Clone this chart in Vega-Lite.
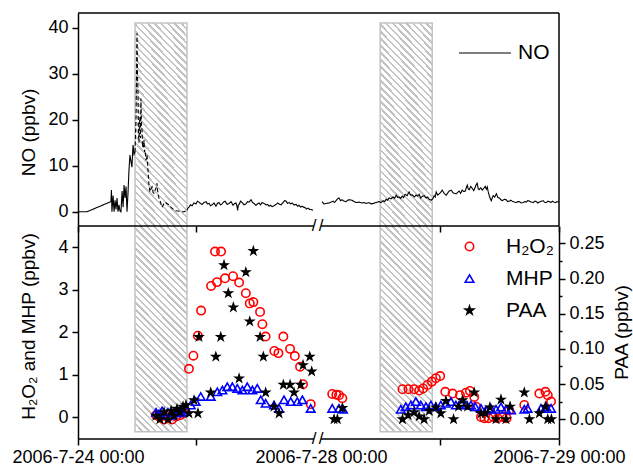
{
"$schema": "https://vega.github.io/schema/vega-lite/v6.json",
"padding": {"left": 11, "top": 12, "right": 2, "bottom": 2},
"background": "white",
"config": {
  "font": "Liberation Sans",
  "view": {"stroke": null},
  "axis": {"grid": false, "labelFont": "Liberation Sans", "labelFontSize": 18, "labelColor": "#000", "titleFont": "Liberation Sans", "titleFontSize": 19, "titleFontWeight": "normal", "titleColor": "#000", "tickColor": "#000", "tickWidth": 1.5, "domainColor": "#000", "domainWidth": 1.5, "labelOverlap": false, "labelFlush": false},
  "legend": {"labelFont": "Liberation Sans", "labelColor": "#000", "padding": 0}
},
"datasets": {
  "hatch": [{"start": "2006/07/24 05:48", "end": "2006/07/24 11:05"}, {"start": "2006/07/28 05:58", "end": "2006/07/28 11:13"}],
  "segments": [{"s": "2006/07/24 00:00", "e": "2006/07/25 00:00"}, {"s": "2006/07/28 00:00", "e": "2006/07/29 00:00"}],
  "breaks": [{"t": "2006/07/25 00:00"}, {"t": "2006/07/28 00:00"}],
  "no": [
    {"t":"2006/07/24 00:00","NO":0,"part":"a"},{"t":"2006/07/24 00:55","NO":0,"part":"a"},{"t":"2006/07/24 03:21","NO":2.2,"part":"a"},{"t":"2006/07/24 03:24","NO":4.7,"part":"a"},{"t":"2006/07/24 03:27","NO":0,"part":"a"},{"t":"2006/07/24 03:34","NO":3.5,"part":"a"},{"t":"2006/07/24 03:40","NO":0,"part":"a"},{"t":"2006/07/24 03:46","NO":2.5,"part":"a"},{"t":"2006/07/24 03:52","NO":0.5,"part":"a"},{"t":"2006/07/24 03:58","NO":3.0,"part":"a"},{"t":"2006/07/24 04:04","NO":0,"part":"a"},{"t":"2006/07/24 04:10","NO":1.5,"part":"a"},{"t":"2006/07/24 04:16","NO":0.2,"part":"a"},{"t":"2006/07/24 04:22","NO":0,"part":"a"},{"t":"2006/07/24 04:29","NO":4.5,"part":"a"},{"t":"2006/07/24 04:35","NO":1.0,"part":"a"},{"t":"2006/07/24 04:41","NO":5.8,"part":"a"},{"t":"2006/07/24 04:47","NO":3.0,"part":"a"},{"t":"2006/07/24 04:53","NO":5.5,"part":"a"},{"t":"2006/07/24 04:59","NO":0,"part":"a"},{"t":"2006/07/24 05:05","NO":4.0,"part":"a"},{"t":"2006/07/24 05:11","NO":9.0,"part":"a"},{"t":"2006/07/24 05:17","NO":12.3,"part":"a"},{"t":"2006/07/24 05:23","NO":11.0,"part":"a"},{"t":"2006/07/24 05:29","NO":9.7,"part":"a"},{"t":"2006/07/24 05:36","NO":14.5,"part":"a"},{"t":"2006/07/24 05:42","NO":12.5,"part":"a"},{"t":"2006/07/24 05:48","NO":13.0,"part":"a"},
    {"t":"2006/07/24 05:48","NO":13.0,"part":"b"},{"t":"2006/07/24 05:54","NO":20.6,"part":"b"},{"t":"2006/07/24 06:00","NO":38.8,"part":"b"},{"t":"2006/07/24 06:03","NO":30,"part":"b"},{"t":"2006/07/24 06:06","NO":26,"part":"b"},{"t":"2006/07/24 06:09","NO":17,"part":"b"},{"t":"2006/07/24 06:12","NO":15,"part":"b"},{"t":"2006/07/24 06:15","NO":19,"part":"b"},{"t":"2006/07/24 06:18","NO":20.6,"part":"b"},{"t":"2006/07/24 06:21","NO":16,"part":"b"},{"t":"2006/07/24 06:24","NO":24.6,"part":"b"},{"t":"2006/07/24 06:27","NO":19,"part":"b"},{"t":"2006/07/24 06:31","NO":17.7,"part":"b"},{"t":"2006/07/24 06:34","NO":14,"part":"b"},{"t":"2006/07/24 06:37","NO":15,"part":"b"},{"t":"2006/07/24 06:40","NO":14,"part":"b"},{"t":"2006/07/24 06:43","NO":15.6,"part":"b"},{"t":"2006/07/24 06:46","NO":13,"part":"b"},{"t":"2006/07/24 06:49","NO":13.4,"part":"b"},{"t":"2006/07/24 06:55","NO":11.2,"part":"b"},{"t":"2006/07/24 07:01","NO":12.3,"part":"b"},{"t":"2006/07/24 07:07","NO":9.0,"part":"b"},{"t":"2006/07/24 07:13","NO":5.8,"part":"b"},{"t":"2006/07/24 07:19","NO":4.3,"part":"b"},{"t":"2006/07/24 07:26","NO":5.0,"part":"b"},{"t":"2006/07/24 07:32","NO":5.4,"part":"b"},{"t":"2006/07/24 07:38","NO":4.2,"part":"b"},{"t":"2006/07/24 07:44","NO":4.0,"part":"b"},{"t":"2006/07/24 07:50","NO":4.6,"part":"b"},{"t":"2006/07/24 07:56","NO":5.1,"part":"b"},{"t":"2006/07/24 08:02","NO":6.2,"part":"b"},{"t":"2006/07/24 08:08","NO":3.8,"part":"b"},{"t":"2006/07/24 08:14","NO":3.0,"part":"b"},{"t":"2006/07/24 08:24","NO":2.0,"part":"b"},{"t":"2006/07/24 08:33","NO":1.0,"part":"b"},{"t":"2006/07/24 08:42","NO":1.6,"part":"b"},{"t":"2006/07/24 08:51","NO":2.1,"part":"b"},{"t":"2006/07/24 09:03","NO":1.8,"part":"b"},{"t":"2006/07/24 09:15","NO":1.5,"part":"b"},{"t":"2006/07/24 09:30","NO":0.9,"part":"b"},{"t":"2006/07/24 09:46","NO":0.4,"part":"b"},{"t":"2006/07/24 10:00","NO":0.2,"part":"b"},{"t":"2006/07/24 10:16","NO":0.1,"part":"b"},{"t":"2006/07/24 10:30","NO":0.0,"part":"b"},{"t":"2006/07/24 10:47","NO":0.0,"part":"b"},{"t":"2006/07/24 11:05","NO":0.3,"part":"b"},
    {"t":"2006/07/24 11:05","NO":0.3,"part":"c"},{"t":"2006/07/24 11:11","NO":0.8,"part":"c"},{"t":"2006/07/24 11:17","NO":1.0,"part":"c"},{"t":"2006/07/24 11:26","NO":1.5,"part":"c"},{"t":"2006/07/24 11:36","NO":1.3,"part":"c"},{"t":"2006/07/24 11:48","NO":1.9,"part":"c"},{"t":"2006/07/24 12:00","NO":1.7,"part":"c"},{"t":"2006/07/24 12:09","NO":2.3,"part":"c"},{"t":"2006/07/24 12:18","NO":2.1,"part":"c"},{"t":"2006/07/24 12:27","NO":1.8,"part":"c"},{"t":"2006/07/24 12:37","NO":1.6,"part":"c"},{"t":"2006/07/24 12:49","NO":2.0,"part":"c"},{"t":"2006/07/24 13:01","NO":2.2,"part":"c"},{"t":"2006/07/24 13:10","NO":1.7,"part":"c"},{"t":"2006/07/24 13:20","NO":1.8,"part":"c"},{"t":"2006/07/24 13:29","NO":1.3,"part":"c"},{"t":"2006/07/24 13:38","NO":1.5,"part":"c"},{"t":"2006/07/24 13:50","NO":1.9,"part":"c"},{"t":"2006/07/24 14:02","NO":1.2,"part":"c"},{"t":"2006/07/24 14:11","NO":1.8,"part":"c"},{"t":"2006/07/24 14:20","NO":2.0,"part":"c"},{"t":"2006/07/24 14:29","NO":1.5,"part":"c"},{"t":"2006/07/24 14:39","NO":1.7,"part":"c"},{"t":"2006/07/24 14:48","NO":2.1,"part":"c"},{"t":"2006/07/24 14:57","NO":2.3,"part":"c"},{"t":"2006/07/24 15:10","NO":1.6,"part":"c"},{"t":"2006/07/24 15:22","NO":1.8,"part":"c"},{"t":"2006/07/24 15:34","NO":2.2,"part":"c"},{"t":"2006/07/24 15:46","NO":1.4,"part":"c"},{"t":"2006/07/24 15:55","NO":1.8,"part":"c"},{"t":"2006/07/24 16:04","NO":1.9,"part":"c"},{"t":"2006/07/24 16:10","NO":1.2,"part":"c"},{"t":"2006/07/24 16:14","NO":0.3,"part":"c"},{"t":"2006/07/24 16:18","NO":1.4,"part":"c"},{"t":"2006/07/24 16:23","NO":1.6,"part":"c"},{"t":"2006/07/24 16:32","NO":2.3,"part":"c"},{"t":"2006/07/24 16:41","NO":2.0,"part":"c"},{"t":"2006/07/24 16:53","NO":1.5,"part":"c"},{"t":"2006/07/24 17:05","NO":1.7,"part":"c"},{"t":"2006/07/24 17:14","NO":2.2,"part":"c"},{"t":"2006/07/24 17:24","NO":2.1,"part":"c"},{"t":"2006/07/24 17:36","NO":2.6,"part":"c"},{"t":"2006/07/24 17:45","NO":2.0,"part":"c"},{"t":"2006/07/24 17:54","NO":1.8,"part":"c"},{"t":"2006/07/24 18:06","NO":1.4,"part":"c"},{"t":"2006/07/24 18:15","NO":1.7,"part":"c"},{"t":"2006/07/24 18:25","NO":1.9,"part":"c"},{"t":"2006/07/24 18:34","NO":1.5,"part":"c"},{"t":"2006/07/24 18:43","NO":2.0,"part":"c"},{"t":"2006/07/24 18:55","NO":1.8,"part":"c"},{"t":"2006/07/24 19:08","NO":1.5,"part":"c"},{"t":"2006/07/24 19:17","NO":1.6,"part":"c"},{"t":"2006/07/24 19:26","NO":1.2,"part":"c"},{"t":"2006/07/24 19:35","NO":1.4,"part":"c"},{"t":"2006/07/24 19:44","NO":1.1,"part":"c"},{"t":"2006/07/24 19:56","NO":1.3,"part":"c"},{"t":"2006/07/24 20:09","NO":1.6,"part":"c"},{"t":"2006/07/24 20:18","NO":1.9,"part":"c"},{"t":"2006/07/24 20:27","NO":1.7,"part":"c"},{"t":"2006/07/24 20:39","NO":1.5,"part":"c"},{"t":"2006/07/24 20:51","NO":2.0,"part":"c"},{"t":"2006/07/24 21:00","NO":2.4,"part":"c"},{"t":"2006/07/24 21:10","NO":2.3,"part":"c"},{"t":"2006/07/24 21:19","NO":1.8,"part":"c"},{"t":"2006/07/24 21:28","NO":2.0,"part":"c"},{"t":"2006/07/24 21:37","NO":1.7,"part":"c"},{"t":"2006/07/24 21:46","NO":1.9,"part":"c"},{"t":"2006/07/24 21:58","NO":1.5,"part":"c"},{"t":"2006/07/24 22:11","NO":1.6,"part":"c"},{"t":"2006/07/24 22:20","NO":1.2,"part":"c"},{"t":"2006/07/24 22:29","NO":1.4,"part":"c"},{"t":"2006/07/24 22:38","NO":1.0,"part":"c"},{"t":"2006/07/24 22:47","NO":1.2,"part":"c"},{"t":"2006/07/24 22:56","NO":1.0,"part":"c"},{"t":"2006/07/24 23:05","NO":0.9,"part":"c"},{"t":"2006/07/24 23:14","NO":0.6,"part":"c"},{"t":"2006/07/24 23:24","NO":0.8,"part":"c"},{"t":"2006/07/24 23:33","NO":0.5,"part":"c"},{"t":"2006/07/24 23:42","NO":0.5,"part":"c"},{"t":"2006/07/24 23:54","NO":0.3,"part":"c"},
    {"t":"2006/07/28 00:06","NO":2.2,"part":"d"},{"t":"2006/07/28 00:18","NO":1.7,"part":"d"},{"t":"2006/07/28 00:30","NO":1.8,"part":"d"},{"t":"2006/07/28 00:48","NO":1.9,"part":"d"},{"t":"2006/07/28 01:01","NO":2.1,"part":"d"},{"t":"2006/07/28 01:13","NO":2.3,"part":"d"},{"t":"2006/07/28 01:22","NO":2.0,"part":"d"},{"t":"2006/07/28 01:31","NO":2.4,"part":"d"},{"t":"2006/07/28 01:40","NO":2.8,"part":"d"},{"t":"2006/07/28 01:49","NO":3.0,"part":"d"},{"t":"2006/07/28 01:58","NO":2.4,"part":"d"},{"t":"2006/07/28 02:07","NO":2.6,"part":"d"},{"t":"2006/07/28 02:20","NO":2.3,"part":"d"},{"t":"2006/07/28 02:32","NO":2.2,"part":"d"},{"t":"2006/07/28 02:41","NO":2.5,"part":"d"},{"t":"2006/07/28 02:50","NO":2.6,"part":"d"},{"t":"2006/07/28 03:08","NO":2.5,"part":"d"},{"t":"2006/07/28 03:20","NO":2.2,"part":"d"},{"t":"2006/07/28 03:32","NO":2.0,"part":"d"},{"t":"2006/07/28 03:50","NO":2.1,"part":"d"},{"t":"2006/07/28 04:08","NO":1.9,"part":"d"},{"t":"2006/07/28 04:20","NO":2.0,"part":"d"},{"t":"2006/07/28 04:33","NO":1.8,"part":"d"},{"t":"2006/07/28 04:51","NO":2.0,"part":"d"},{"t":"2006/07/28 05:03","NO":1.7,"part":"d"},{"t":"2006/07/28 05:15","NO":1.8,"part":"d"},{"t":"2006/07/28 05:33","NO":2.0,"part":"d"},{"t":"2006/07/28 05:51","NO":2.2,"part":"d"},{"t":"2006/07/28 06:04","NO":2.0,"part":"d"},{"t":"2006/07/28 06:16","NO":2.4,"part":"d"},{"t":"2006/07/28 06:25","NO":2.2,"part":"d"},{"t":"2006/07/28 06:34","NO":2.7,"part":"d"},{"t":"2006/07/28 06:43","NO":2.5,"part":"d"},{"t":"2006/07/28 06:52","NO":3.0,"part":"d"},{"t":"2006/07/28 07:04","NO":2.8,"part":"d"},{"t":"2006/07/28 07:16","NO":3.2,"part":"d"},{"t":"2006/07/28 07:25","NO":2.9,"part":"d"},{"t":"2006/07/28 07:35","NO":3.6,"part":"d"},{"t":"2006/07/28 07:44","NO":3.1,"part":"d"},{"t":"2006/07/28 07:53","NO":3.2,"part":"d"},{"t":"2006/07/28 08:02","NO":2.9,"part":"d"},{"t":"2006/07/28 08:11","NO":3.4,"part":"d"},{"t":"2006/07/28 08:20","NO":3.1,"part":"d"},{"t":"2006/07/28 08:29","NO":3.8,"part":"d"},{"t":"2006/07/28 08:41","NO":3.5,"part":"d"},{"t":"2006/07/28 08:53","NO":4.3,"part":"d"},{"t":"2006/07/28 09:02","NO":3.6,"part":"d"},{"t":"2006/07/28 09:11","NO":3.7,"part":"d"},{"t":"2006/07/28 09:24","NO":3.2,"part":"d"},{"t":"2006/07/28 09:36","NO":3.6,"part":"d"},{"t":"2006/07/28 09:45","NO":3.4,"part":"d"},{"t":"2006/07/28 09:54","NO":3.8,"part":"d"},{"t":"2006/07/28 10:03","NO":3.0,"part":"d"},{"t":"2006/07/28 10:12","NO":3.3,"part":"d"},{"t":"2006/07/28 10:24","NO":3.5,"part":"d"},{"t":"2006/07/28 10:36","NO":3.0,"part":"d"},{"t":"2006/07/28 10:45","NO":3.2,"part":"d"},{"t":"2006/07/28 10:55","NO":2.7,"part":"d"},{"t":"2006/07/28 11:07","NO":2.5,"part":"d"},{"t":"2006/07/28 11:16","NO":2.8,"part":"d"},{"t":"2006/07/28 11:25","NO":3.5,"part":"d"},{"t":"2006/07/28 11:31","NO":3.2,"part":"d"},{"t":"2006/07/28 11:37","NO":4.3,"part":"d"},{"t":"2006/07/28 11:46","NO":3.6,"part":"d"},{"t":"2006/07/28 11:55","NO":3.9,"part":"d"},{"t":"2006/07/28 12:04","NO":4.2,"part":"d"},{"t":"2006/07/28 12:13","NO":4.7,"part":"d"},{"t":"2006/07/28 12:25","NO":4.0,"part":"d"},{"t":"2006/07/28 12:38","NO":3.6,"part":"d"},{"t":"2006/07/28 12:47","NO":4.1,"part":"d"},{"t":"2006/07/28 12:56","NO":4.5,"part":"d"},{"t":"2006/07/28 13:08","NO":4.7,"part":"d"},{"t":"2006/07/28 13:17","NO":4.2,"part":"d"},{"t":"2006/07/28 13:26","NO":4.0,"part":"d"},{"t":"2006/07/28 13:38","NO":3.9,"part":"d"},{"t":"2006/07/28 13:47","NO":4.2,"part":"d"},{"t":"2006/07/28 13:56","NO":4.5,"part":"d"},{"t":"2006/07/28 14:05","NO":4.0,"part":"d"},{"t":"2006/07/28 14:14","NO":4.7,"part":"d"},{"t":"2006/07/28 14:23","NO":4.4,"part":"d"},{"t":"2006/07/28 14:33","NO":4.5,"part":"d"},{"t":"2006/07/28 14:39","NO":5.2,"part":"d"},{"t":"2006/07/28 14:45","NO":5.8,"part":"d"},{"t":"2006/07/28 14:51","NO":4.9,"part":"d"},{"t":"2006/07/28 14:57","NO":4.8,"part":"d"},{"t":"2006/07/28 15:06","NO":5.5,"part":"d"},{"t":"2006/07/28 15:15","NO":5.1,"part":"d"},{"t":"2006/07/28 15:24","NO":4.6,"part":"d"},{"t":"2006/07/28 15:33","NO":5.3,"part":"d"},{"t":"2006/07/28 15:39","NO":5.9,"part":"d"},{"t":"2006/07/28 15:45","NO":6.2,"part":"d"},{"t":"2006/07/28 15:51","NO":5.0,"part":"d"},{"t":"2006/07/28 15:57","NO":4.8,"part":"d"},{"t":"2006/07/28 16:07","NO":5.2,"part":"d"},{"t":"2006/07/28 16:16","NO":4.7,"part":"d"},{"t":"2006/07/28 16:25","NO":5.1,"part":"d"},{"t":"2006/07/28 16:34","NO":5.5,"part":"d"},{"t":"2006/07/28 16:40","NO":4.9,"part":"d"},{"t":"2006/07/28 16:46","NO":5.4,"part":"d"},{"t":"2006/07/28 16:52","NO":4.3,"part":"d"},{"t":"2006/07/28 16:58","NO":3.5,"part":"d"},{"t":"2006/07/28 17:04","NO":2.9,"part":"d"},{"t":"2006/07/28 17:10","NO":2.4,"part":"d"},{"t":"2006/07/28 17:16","NO":3.0,"part":"d"},{"t":"2006/07/28 17:22","NO":3.5,"part":"d"},{"t":"2006/07/28 17:31","NO":3.2,"part":"d"},{"t":"2006/07/28 17:41","NO":3.9,"part":"d"},{"t":"2006/07/28 17:50","NO":3.1,"part":"d"},{"t":"2006/07/28 17:59","NO":3.0,"part":"d"},{"t":"2006/07/28 18:08","NO":2.6,"part":"d"},{"t":"2006/07/28 18:17","NO":2.4,"part":"d"},{"t":"2006/07/28 18:29","NO":2.7,"part":"d"},{"t":"2006/07/28 18:41","NO":2.6,"part":"d"},{"t":"2006/07/28 18:50","NO":2.2,"part":"d"},{"t":"2006/07/28 18:59","NO":2.3,"part":"d"},{"t":"2006/07/28 19:08","NO":2.5,"part":"d"},{"t":"2006/07/28 19:17","NO":2.3,"part":"d"},{"t":"2006/07/28 19:30","NO":2.1,"part":"d"},{"t":"2006/07/28 19:42","NO":2.0,"part":"d"},{"t":"2006/07/28 19:51","NO":2.2,"part":"d"},{"t":"2006/07/28 20:00","NO":2.2,"part":"d"},{"t":"2006/07/28 20:12","NO":1.9,"part":"d"},{"t":"2006/07/28 20:24","NO":2.0,"part":"d"},{"t":"2006/07/28 20:33","NO":2.2,"part":"d"},{"t":"2006/07/28 20:42","NO":2.1,"part":"d"},{"t":"2006/07/28 20:51","NO":2.4,"part":"d"},{"t":"2006/07/28 21:01","NO":2.3,"part":"d"},{"t":"2006/07/28 21:13","NO":2.1,"part":"d"},{"t":"2006/07/28 21:25","NO":2.0,"part":"d"},{"t":"2006/07/28 21:34","NO":2.3,"part":"d"},{"t":"2006/07/28 21:43","NO":2.2,"part":"d"},{"t":"2006/07/28 21:52","NO":1.9,"part":"d"},{"t":"2006/07/28 22:01","NO":2.1,"part":"d"},{"t":"2006/07/28 22:13","NO":2.3,"part":"d"},{"t":"2006/07/28 22:25","NO":2.4,"part":"d"},{"t":"2006/07/28 22:34","NO":2.0,"part":"d"},{"t":"2006/07/28 22:44","NO":2.0,"part":"d"},{"t":"2006/07/28 22:53","NO":2.3,"part":"d"},{"t":"2006/07/28 23:02","NO":2.2,"part":"d"},{"t":"2006/07/28 23:11","NO":2.0,"part":"d"},{"t":"2006/07/28 23:20","NO":2.3,"part":"d"},{"t":"2006/07/28 23:29","NO":2.1,"part":"d"},{"t":"2006/07/28 23:38","NO":2.0,"part":"d"},{"t":"2006/07/28 23:49","NO":2.2,"part":"d"},{"t":"2006/07/28 23:59","NO":2.1,"part":"d"}
  ],
  "species": [
    {"t":"2006/07/24 07:56","species":"H2O2","value":0.05},{"t":"2006/07/24 08:20","species":"H2O2","value":0.0},{"t":"2006/07/24 08:45","species":"H2O2","value":-0.05},{"t":"2006/07/24 09:09","species":"H2O2","value":0.0},{"t":"2006/07/24 09:34","species":"H2O2","value":-0.05},{"t":"2006/07/24 09:58","species":"H2O2","value":0.02},{"t":"2006/07/24 10:23","species":"H2O2","value":0.05},{"t":"2006/07/24 10:47","species":"H2O2","value":0.1},{"t":"2006/07/24 11:17","species":"H2O2","value":1.14},{"t":"2006/07/24 11:44","species":"H2O2","value":1.45},{"t":"2006/07/24 12:11","species":"H2O2","value":1.92},{"t":"2006/07/24 12:31","species":"H2O2","value":2.51},{"t":"2006/07/24 13:32","species":"H2O2","value":3.09},{"t":"2006/07/24 13:56","species":"H2O2","value":3.9},{"t":"2006/07/24 14:08","species":"H2O2","value":3.18},{"t":"2006/07/24 14:33","species":"H2O2","value":3.9},{"t":"2006/07/24 14:57","species":"H2O2","value":3.27},{"t":"2006/07/24 15:46","species":"H2O2","value":3.32},{"t":"2006/07/24 16:23","species":"H2O2","value":3.17},{"t":"2006/07/24 17:04","species":"H2O2","value":2.92},{"t":"2006/07/24 17:28","species":"H2O2","value":2.68},{"t":"2006/07/24 17:50","species":"H2O2","value":2.71},{"t":"2006/07/24 18:31","species":"H2O2","value":2.48},{"t":"2006/07/24 18:45","species":"H2O2","value":2.19},{"t":"2006/07/24 19:05","species":"H2O2","value":1.9},{"t":"2006/07/24 19:58","species":"H2O2","value":1.56},{"t":"2006/07/24 20:23","species":"H2O2","value":1.51},{"t":"2006/07/24 20:53","species":"H2O2","value":1.9},{"t":"2006/07/24 21:34","species":"H2O2","value":1.61},{"t":"2006/07/24 22:03","species":"H2O2","value":1.44},{"t":"2006/07/24 22:35","species":"H2O2","value":1.19},{"t":"2006/07/24 22:53","species":"H2O2","value":0.78},{"t":"2006/07/24 23:40","species":"H2O2","value":0.31},
    {"t":"2006/07/28 01:08","species":"H2O2","value":0.55},{"t":"2006/07/28 01:33","species":"H2O2","value":0.53},{"t":"2006/07/28 01:49","species":"H2O2","value":0.52},{"t":"2006/07/28 02:09","species":"H2O2","value":0.45},{"t":"2006/07/28 08:13","species":"H2O2","value":0.66},{"t":"2006/07/28 08:49","species":"H2O2","value":0.66},{"t":"2006/07/28 09:24","species":"H2O2","value":0.66},{"t":"2006/07/28 09:54","species":"H2O2","value":0.63},{"t":"2006/07/28 10:18","species":"H2O2","value":0.68},{"t":"2006/07/28 10:44","species":"H2O2","value":0.76},{"t":"2006/07/28 11:11","species":"H2O2","value":0.84},{"t":"2006/07/28 11:35","species":"H2O2","value":0.92},{"t":"2006/07/28 12:01","species":"H2O2","value":0.97},{"t":"2006/07/28 12:32","species":"H2O2","value":0.6},{"t":"2006/07/28 13:16","species":"H2O2","value":0.56},{"t":"2006/07/28 14:01","species":"H2O2","value":0.52},{"t":"2006/07/28 14:37","species":"H2O2","value":0.58},{"t":"2006/07/28 15:01","species":"H2O2","value":0.62},{"t":"2006/07/28 15:27","species":"H2O2","value":0.48},{"t":"2006/07/28 15:38","species":"H2O2","value":0.25},{"t":"2006/07/28 16:08","species":"H2O2","value":0.01},{"t":"2006/07/28 16:28","species":"H2O2","value":-0.02},{"t":"2006/07/28 16:54","species":"H2O2","value":-0.02},{"t":"2006/07/28 17:22","species":"H2O2","value":0.01},{"t":"2006/07/28 17:49","species":"H2O2","value":-0.02},{"t":"2006/07/28 18:19","species":"H2O2","value":0.01},{"t":"2006/07/28 18:43","species":"H2O2","value":-0.02},{"t":"2006/07/28 18:59","species":"H2O2","value":0.17},{"t":"2006/07/28 20:30","species":"H2O2","value":0.29},{"t":"2006/07/28 22:01","species":"H2O2","value":0.56},{"t":"2006/07/28 22:38","species":"H2O2","value":0.6},{"t":"2006/07/28 22:52","species":"H2O2","value":0.52},{"t":"2006/07/28 23:12","species":"H2O2","value":0.37},
    {"t":"2006/07/24 07:56","species":"MHP","value":0.12},{"t":"2006/07/24 08:14","species":"MHP","value":0.08},{"t":"2006/07/24 08:33","species":"MHP","value":0.15},{"t":"2006/07/24 08:51","species":"MHP","value":0.05},{"t":"2006/07/24 09:09","species":"MHP","value":0.12},{"t":"2006/07/24 09:28","species":"MHP","value":0.05},{"t":"2006/07/24 09:46","species":"MHP","value":0.12},{"t":"2006/07/24 10:04","species":"MHP","value":0.1},{"t":"2006/07/24 10:23","species":"MHP","value":0.15},{"t":"2006/07/24 10:41","species":"MHP","value":0.12},{"t":"2006/07/24 10:59","species":"MHP","value":0.2},{"t":"2006/07/24 11:28","species":"MHP","value":0.29},{"t":"2006/07/24 11:58","species":"MHP","value":0.37},{"t":"2006/07/24 12:29","species":"MHP","value":0.49},{"t":"2006/07/24 13:30","species":"MHP","value":0.49},{"t":"2006/07/24 14:10","species":"MHP","value":0.6},{"t":"2006/07/24 14:41","species":"MHP","value":0.64},{"t":"2006/07/24 15:11","species":"MHP","value":0.72},{"t":"2006/07/24 15:42","species":"MHP","value":0.72},{"t":"2006/07/24 16:12","species":"MHP","value":0.68},{"t":"2006/07/24 16:43","species":"MHP","value":0.64},{"t":"2006/07/24 17:13","species":"MHP","value":0.72},{"t":"2006/07/24 17:44","species":"MHP","value":0.64},{"t":"2006/07/24 18:14","species":"MHP","value":0.68},{"t":"2006/07/24 18:35","species":"MHP","value":0.41},{"t":"2006/07/24 19:05","species":"MHP","value":0.33},{"t":"2006/07/24 19:56","species":"MHP","value":0.29},{"t":"2006/07/24 20:27","species":"MHP","value":0.21},{"t":"2006/07/24 20:57","species":"MHP","value":0.41},{"t":"2006/07/24 21:38","species":"MHP","value":0.37},{"t":"2006/07/24 22:18","species":"MHP","value":0.37},{"t":"2006/07/24 22:49","species":"MHP","value":0.41},{"t":"2006/07/24 23:40","species":"MHP","value":0.21},
    {"t":"2006/07/28 01:08","species":"MHP","value":0.21},{"t":"2006/07/28 01:49","species":"MHP","value":0.21},{"t":"2006/07/28 02:13","species":"MHP","value":0.19},{"t":"2006/07/28 08:03","species":"MHP","value":0.19},{"t":"2006/07/28 08:33","species":"MHP","value":0.25},{"t":"2006/07/28 09:04","species":"MHP","value":0.29},{"t":"2006/07/28 09:34","species":"MHP","value":0.37},{"t":"2006/07/28 10:04","species":"MHP","value":0.29},{"t":"2006/07/28 10:35","species":"MHP","value":0.25},{"t":"2006/07/28 11:05","species":"MHP","value":0.29},{"t":"2006/07/28 11:35","species":"MHP","value":0.25},{"t":"2006/07/28 12:05","species":"MHP","value":0.29},{"t":"2006/07/28 12:36","species":"MHP","value":0.33},{"t":"2006/07/28 13:06","species":"MHP","value":0.37},{"t":"2006/07/28 13:36","species":"MHP","value":0.29},{"t":"2006/07/28 14:07","species":"MHP","value":0.33},{"t":"2006/07/28 14:37","species":"MHP","value":0.29},{"t":"2006/07/28 15:07","species":"MHP","value":0.29},{"t":"2006/07/28 15:33","species":"MHP","value":0.25},{"t":"2006/07/28 16:08","species":"MHP","value":0.21},{"t":"2006/07/28 16:38","species":"MHP","value":0.17},{"t":"2006/07/28 17:08","species":"MHP","value":0.21},{"t":"2006/07/28 17:39","species":"MHP","value":0.19},{"t":"2006/07/28 18:09","species":"MHP","value":0.24},{"t":"2006/07/28 18:39","species":"MHP","value":0.19},{"t":"2006/07/28 19:10","species":"MHP","value":0.17},{"t":"2006/07/28 20:30","species":"MHP","value":0.19},{"t":"2006/07/28 20:50","species":"MHP","value":0.21},{"t":"2006/07/28 22:11","species":"MHP","value":0.21},{"t":"2006/07/28 22:42","species":"MHP","value":0.25},{"t":"2006/07/28 23:12","species":"MHP","value":0.21},
    {"t":"2006/07/24 07:56","species":"PAA","value":0.005},{"t":"2006/07/24 08:20","species":"PAA","value":0.0},{"t":"2006/07/24 08:45","species":"PAA","value":0.01},{"t":"2006/07/24 09:09","species":"PAA","value":0.0},{"t":"2006/07/24 09:28","species":"PAA","value":0.012},{"t":"2006/07/24 09:46","species":"PAA","value":0.005},{"t":"2006/07/24 10:04","species":"PAA","value":0.015},{"t":"2006/07/24 10:23","species":"PAA","value":0.01},{"t":"2006/07/24 10:41","species":"PAA","value":0.018},{"t":"2006/07/24 10:59","species":"PAA","value":0.02},{"t":"2006/07/24 11:17","species":"PAA","value":0.0085},{"t":"2006/07/24 11:48","species":"PAA","value":0.027},{"t":"2006/07/24 12:12","species":"PAA","value":0.0085},{"t":"2006/07/24 12:18","species":"PAA","value":0.117},{"t":"2006/07/24 13:30","species":"PAA","value":0.038},{"t":"2006/07/24 14:01","species":"PAA","value":0.089},{"t":"2006/07/24 14:31","species":"PAA","value":0.117},{"t":"2006/07/24 14:51","species":"PAA","value":0.219},{"t":"2006/07/24 15:17","species":"PAA","value":0.179},{"t":"2006/07/24 15:48","species":"PAA","value":0.159},{"t":"2006/07/24 16:23","species":"PAA","value":0.058},{"t":"2006/07/24 17:04","species":"PAA","value":0.209},{"t":"2006/07/24 17:28","species":"PAA","value":0.139},{"t":"2006/07/24 17:50","species":"PAA","value":0.239},{"t":"2006/07/24 18:31","species":"PAA","value":0.117},{"t":"2006/07/24 18:51","species":"PAA","value":0.089},{"t":"2006/07/24 19:05","species":"PAA","value":0.038},{"t":"2006/07/24 19:56","species":"PAA","value":0.018},{"t":"2006/07/24 20:27","species":"PAA","value":0.0085},{"t":"2006/07/24 20:53","species":"PAA","value":0.049},{"t":"2006/07/24 21:34","species":"PAA","value":0.049},{"t":"2006/07/24 21:58","species":"PAA","value":0.038},{"t":"2006/07/24 22:39","species":"PAA","value":0.049},{"t":"2006/07/24 22:53","species":"PAA","value":0.077},{"t":"2006/07/24 23:34","species":"PAA","value":0.089},{"t":"2006/07/24 23:46","species":"PAA","value":0.068},
    {"t":"2006/07/28 01:19","species":"PAA","value":0.0},{"t":"2006/07/28 01:39","species":"PAA","value":0.0},{"t":"2006/07/28 02:09","species":"PAA","value":0.016},{"t":"2006/07/28 08:13","species":"PAA","value":0.0},{"t":"2006/07/28 08:47","species":"PAA","value":0.006},{"t":"2006/07/28 09:24","species":"PAA","value":0.01},{"t":"2006/07/28 09:54","species":"PAA","value":0.004},{"t":"2006/07/28 10:24","species":"PAA","value":0.0},{"t":"2006/07/28 10:55","species":"PAA","value":0.012},{"t":"2006/07/28 11:35","species":"PAA","value":0.017},{"t":"2006/07/28 12:05","species":"PAA","value":0.0085},{"t":"2006/07/28 12:36","species":"PAA","value":0.026},{"t":"2006/07/28 13:22","species":"PAA","value":0.0},{"t":"2006/07/28 13:52","species":"PAA","value":0.018},{"t":"2006/07/28 14:16","species":"PAA","value":0.027},{"t":"2006/07/28 14:47","species":"PAA","value":0.018},{"t":"2006/07/28 15:27","species":"PAA","value":0.038},{"t":"2006/07/28 16:08","species":"PAA","value":0.0085},{"t":"2006/07/28 16:34","species":"PAA","value":0.0085},{"t":"2006/07/28 17:02","species":"PAA","value":0.017},{"t":"2006/07/28 17:39","species":"PAA","value":0.0},{"t":"2006/07/28 18:09","species":"PAA","value":0.028},{"t":"2006/07/28 18:39","species":"PAA","value":0.0},{"t":"2006/07/28 19:04","species":"PAA","value":0.018},{"t":"2006/07/28 20:30","species":"PAA","value":0.038},{"t":"2006/07/28 21:01","species":"PAA","value":0.0},{"t":"2006/07/28 22:01","species":"PAA","value":0.0085},{"t":"2006/07/28 22:38","species":"PAA","value":0.018},{"t":"2006/07/28 22:52","species":"PAA","value":0.0},{"t":"2006/07/28 23:14","species":"PAA","value":0.0}
  ]
},
"spacing": 0,
"bounds": "flush",
"resolve": {
  "scale": {"color": "independent", "strokeDash": "independent", "shape": "independent", "fill": "independent", "stroke": "independent", "size": "independent"},
  "legend": {"color": "independent", "strokeDash": "independent", "shape": "independent", "fill": "independent", "stroke": "independent", "size": "independent"}
},
"vconcat": [
  {
    "width": 481, "height": 213,
    "layer": [
      {
        "data": {"name": "hatch"},
        "mark": {"type": "rect", "clip": true, "stroke": "#c3c3c3", "strokeWidth": 1.5,
          "fill": {"gradient": "linear", "x1": 0, "y1": 1, "x2": 0.28, "y2": -0.17, "stops": [
            {"offset":0,"color":"#c3c3c3"},{"offset":0.009,"color":"#c3c3c3"},{"offset":0.009,"color":"#fff"},{"offset":0.025,"color":"#fff"},
            {"offset":0.025,"color":"#c3c3c3"},{"offset":0.034,"color":"#c3c3c3"},{"offset":0.034,"color":"#fff"},{"offset":0.05,"color":"#fff"},
            {"offset":0.05,"color":"#c3c3c3"},{"offset":0.059,"color":"#c3c3c3"},{"offset":0.059,"color":"#fff"},{"offset":0.075,"color":"#fff"},
            {"offset":0.075,"color":"#c3c3c3"},{"offset":0.084,"color":"#c3c3c3"},{"offset":0.084,"color":"#fff"},{"offset":0.1,"color":"#fff"},
            {"offset":0.1,"color":"#c3c3c3"},{"offset":0.109,"color":"#c3c3c3"},{"offset":0.109,"color":"#fff"},{"offset":0.125,"color":"#fff"},
            {"offset":0.125,"color":"#c3c3c3"},{"offset":0.134,"color":"#c3c3c3"},{"offset":0.134,"color":"#fff"},{"offset":0.15,"color":"#fff"},
            {"offset":0.15,"color":"#c3c3c3"},{"offset":0.159,"color":"#c3c3c3"},{"offset":0.159,"color":"#fff"},{"offset":0.175,"color":"#fff"},
            {"offset":0.175,"color":"#c3c3c3"},{"offset":0.184,"color":"#c3c3c3"},{"offset":0.184,"color":"#fff"},{"offset":0.2,"color":"#fff"},
            {"offset":0.2,"color":"#c3c3c3"},{"offset":0.209,"color":"#c3c3c3"},{"offset":0.209,"color":"#fff"},{"offset":0.225,"color":"#fff"},
            {"offset":0.225,"color":"#c3c3c3"},{"offset":0.234,"color":"#c3c3c3"},{"offset":0.234,"color":"#fff"},{"offset":0.25,"color":"#fff"},
            {"offset":0.25,"color":"#c3c3c3"},{"offset":0.259,"color":"#c3c3c3"},{"offset":0.259,"color":"#fff"},{"offset":0.275,"color":"#fff"},
            {"offset":0.275,"color":"#c3c3c3"},{"offset":0.284,"color":"#c3c3c3"},{"offset":0.284,"color":"#fff"},{"offset":0.3,"color":"#fff"},
            {"offset":0.3,"color":"#c3c3c3"},{"offset":0.309,"color":"#c3c3c3"},{"offset":0.309,"color":"#fff"},{"offset":0.325,"color":"#fff"},
            {"offset":0.325,"color":"#c3c3c3"},{"offset":0.334,"color":"#c3c3c3"},{"offset":0.334,"color":"#fff"},{"offset":0.35,"color":"#fff"},
            {"offset":0.35,"color":"#c3c3c3"},{"offset":0.359,"color":"#c3c3c3"},{"offset":0.359,"color":"#fff"},{"offset":0.375,"color":"#fff"},
            {"offset":0.375,"color":"#c3c3c3"},{"offset":0.384,"color":"#c3c3c3"},{"offset":0.384,"color":"#fff"},{"offset":0.4,"color":"#fff"},
            {"offset":0.4,"color":"#c3c3c3"},{"offset":0.409,"color":"#c3c3c3"},{"offset":0.409,"color":"#fff"},{"offset":0.425,"color":"#fff"},
            {"offset":0.425,"color":"#c3c3c3"},{"offset":0.434,"color":"#c3c3c3"},{"offset":0.434,"color":"#fff"},{"offset":0.45,"color":"#fff"},
            {"offset":0.45,"color":"#c3c3c3"},{"offset":0.459,"color":"#c3c3c3"},{"offset":0.459,"color":"#fff"},{"offset":0.475,"color":"#fff"},
            {"offset":0.475,"color":"#c3c3c3"},{"offset":0.484,"color":"#c3c3c3"},{"offset":0.484,"color":"#fff"},{"offset":0.5,"color":"#fff"},
            {"offset":0.5,"color":"#c3c3c3"},{"offset":0.509,"color":"#c3c3c3"},{"offset":0.509,"color":"#fff"},{"offset":0.525,"color":"#fff"},
            {"offset":0.525,"color":"#c3c3c3"},{"offset":0.534,"color":"#c3c3c3"},{"offset":0.534,"color":"#fff"},{"offset":0.55,"color":"#fff"},
            {"offset":0.55,"color":"#c3c3c3"},{"offset":0.559,"color":"#c3c3c3"},{"offset":0.559,"color":"#fff"},{"offset":0.575,"color":"#fff"},
            {"offset":0.575,"color":"#c3c3c3"},{"offset":0.584,"color":"#c3c3c3"},{"offset":0.584,"color":"#fff"},{"offset":0.6,"color":"#fff"},
            {"offset":0.6,"color":"#c3c3c3"},{"offset":0.609,"color":"#c3c3c3"},{"offset":0.609,"color":"#fff"},{"offset":0.625,"color":"#fff"},
            {"offset":0.625,"color":"#c3c3c3"},{"offset":0.634,"color":"#c3c3c3"},{"offset":0.634,"color":"#fff"},{"offset":0.65,"color":"#fff"},
            {"offset":0.65,"color":"#c3c3c3"},{"offset":0.659,"color":"#c3c3c3"},{"offset":0.659,"color":"#fff"},{"offset":0.675,"color":"#fff"},
            {"offset":0.675,"color":"#c3c3c3"},{"offset":0.684,"color":"#c3c3c3"},{"offset":0.684,"color":"#fff"},{"offset":0.7,"color":"#fff"},
            {"offset":0.7,"color":"#c3c3c3"},{"offset":0.709,"color":"#c3c3c3"},{"offset":0.709,"color":"#fff"},{"offset":0.725,"color":"#fff"},
            {"offset":0.725,"color":"#c3c3c3"},{"offset":0.734,"color":"#c3c3c3"},{"offset":0.734,"color":"#fff"},{"offset":0.75,"color":"#fff"},
            {"offset":0.75,"color":"#c3c3c3"},{"offset":0.759,"color":"#c3c3c3"},{"offset":0.759,"color":"#fff"},{"offset":0.775,"color":"#fff"},
            {"offset":0.775,"color":"#c3c3c3"},{"offset":0.784,"color":"#c3c3c3"},{"offset":0.784,"color":"#fff"},{"offset":0.8,"color":"#fff"},
            {"offset":0.8,"color":"#c3c3c3"},{"offset":0.809,"color":"#c3c3c3"},{"offset":0.809,"color":"#fff"},{"offset":0.825,"color":"#fff"},
            {"offset":0.825,"color":"#c3c3c3"},{"offset":0.834,"color":"#c3c3c3"},{"offset":0.834,"color":"#fff"},{"offset":0.85,"color":"#fff"},
            {"offset":0.85,"color":"#c3c3c3"},{"offset":0.859,"color":"#c3c3c3"},{"offset":0.859,"color":"#fff"},{"offset":0.875,"color":"#fff"},
            {"offset":0.875,"color":"#c3c3c3"},{"offset":0.884,"color":"#c3c3c3"},{"offset":0.884,"color":"#fff"},{"offset":0.9,"color":"#fff"},
            {"offset":0.9,"color":"#c3c3c3"},{"offset":0.909,"color":"#c3c3c3"},{"offset":0.909,"color":"#fff"},{"offset":0.925,"color":"#fff"},
            {"offset":0.925,"color":"#c3c3c3"},{"offset":0.934,"color":"#c3c3c3"},{"offset":0.934,"color":"#fff"},{"offset":0.95,"color":"#fff"},
            {"offset":0.95,"color":"#c3c3c3"},{"offset":0.959,"color":"#c3c3c3"},{"offset":0.959,"color":"#fff"},{"offset":0.975,"color":"#fff"},
            {"offset":0.975,"color":"#c3c3c3"},{"offset":0.984,"color":"#c3c3c3"},{"offset":0.984,"color":"#fff"},{"offset":1,"color":"#fff"}
          ]}
        },
        "encoding": {
          "x": {"field": "start", "type": "temporal", "scale": {"domain": {"expr": "[datetime(2006,6,24,0,0), datetime(2006,6,25,0,0), datetime(2006,6,28,0,0), datetime(2006,6,29,0,0)]"}, "range": [0, 236, 243, 481], "nice": false}},
          "x2": {"field": "end"},
          "y": {"datum": 41, "type": "quantitative", "scale": {"domain": [-3.1, 43.2], "nice": false, "zero": false}},
          "y2": {"datum": -8}
        }
      },
      {
        "data": {"name": "no"},
        "mark": {"type": "line", "strokeWidth": 1.1},
        "encoding": {
          "x": {"field": "t", "type": "temporal",
            "axis": {"title": null, "orient": "bottom", "labels": false, "domain": false, "tickSize": 6,
              "values": [{"year":2006,"month":7,"date":24,"hours":0},{"year":2006,"month":7,"date":24,"hours":12},{"year":2006,"month":7,"date":28,"hours":0},{"year":2006,"month":7,"date":28,"hours":12},{"year":2006,"month":7,"date":29,"hours":0}],
              "tickOpacity": {"condition": {"test": "date(datum.value) === 28 && hours(datum.value) === 0", "value": 0}, "value": 1}}},
          "y": {"field": "NO", "type": "quantitative",
            "axis": {"title": "NO (ppbv)", "values": [0,5,10,15,20,25,30,35,40], "labelExpr": "datum.value % 10 === 0 ? datum.label : ''",
              "tickSize": {"condition": {"test": "datum.value % 10 === 0", "value": 6}, "value": 3},
              "labelPadding": 4, "titleX": -50, "titleY": 119, "titleBaseline": "middle", "titleFontSize": 19}},
          "strokeDash": {"field": "part", "type": "nominal", "scale": {"domain": ["a","b","c","d"], "range": [[1,0],[4,2.5],[1,0],[1,0]]}, "legend": null},
          "color": {"datum": "NO", "type": "nominal", "scale": {"domain": ["NO"], "range": ["#000"]},
            "legend": {"orient": "none", "legendX": 380, "legendY": 13, "title": null, "symbolType": "stroke", "symbolSize": 2704, "symbolStrokeWidth": 1.2, "labelFontSize": 21, "labelOffset": 6}}
        }
      },
      {
        "data": {"values": [{}]},
        "mark": {"type": "rule", "strokeWidth": 1.5, "color": "#000"},
        "encoding": {
          "x": {"datum": {"year":2006,"month":7,"date":24,"hours":0}, "type": "temporal"},
          "x2": {"datum": {"year":2006,"month":7,"date":29,"hours":0}},
          "y": {"datum": 43.2, "type": "quantitative"}
        }
      },
      {
        "data": {"values": [{}]},
        "mark": {"type": "rule", "strokeWidth": 1.5, "color": "#000"},
        "encoding": {
          "x": {"datum": {"year":2006,"month":7,"date":29,"hours":0}, "type": "temporal"},
          "y": {"datum": -3.1, "type": "quantitative"},
          "y2": {"datum": 43.2}
        }
      }
    ]
  },
  {
    "width": 481, "height": 213,
    "layer": [
      {
        "layer": [
          {
            "data": {"name": "hatch"},
            "mark": {"type": "rect", "clip": true, "stroke": "#c3c3c3", "strokeWidth": 1.5,
              "fill": {"gradient": "linear", "x1": 0, "y1": 1, "x2": 0.28, "y2": -0.17, "stops": [
                {"offset":0,"color":"#c3c3c3"},{"offset":0.009,"color":"#c3c3c3"},{"offset":0.009,"color":"#fff"},{"offset":0.025,"color":"#fff"},
                {"offset":0.025,"color":"#c3c3c3"},{"offset":0.034,"color":"#c3c3c3"},{"offset":0.034,"color":"#fff"},{"offset":0.05,"color":"#fff"},
                {"offset":0.05,"color":"#c3c3c3"},{"offset":0.059,"color":"#c3c3c3"},{"offset":0.059,"color":"#fff"},{"offset":0.075,"color":"#fff"},
                {"offset":0.075,"color":"#c3c3c3"},{"offset":0.084,"color":"#c3c3c3"},{"offset":0.084,"color":"#fff"},{"offset":0.1,"color":"#fff"},
                {"offset":0.1,"color":"#c3c3c3"},{"offset":0.109,"color":"#c3c3c3"},{"offset":0.109,"color":"#fff"},{"offset":0.125,"color":"#fff"},
                {"offset":0.125,"color":"#c3c3c3"},{"offset":0.134,"color":"#c3c3c3"},{"offset":0.134,"color":"#fff"},{"offset":0.15,"color":"#fff"},
                {"offset":0.15,"color":"#c3c3c3"},{"offset":0.159,"color":"#c3c3c3"},{"offset":0.159,"color":"#fff"},{"offset":0.175,"color":"#fff"},
                {"offset":0.175,"color":"#c3c3c3"},{"offset":0.184,"color":"#c3c3c3"},{"offset":0.184,"color":"#fff"},{"offset":0.2,"color":"#fff"},
                {"offset":0.2,"color":"#c3c3c3"},{"offset":0.209,"color":"#c3c3c3"},{"offset":0.209,"color":"#fff"},{"offset":0.225,"color":"#fff"},
                {"offset":0.225,"color":"#c3c3c3"},{"offset":0.234,"color":"#c3c3c3"},{"offset":0.234,"color":"#fff"},{"offset":0.25,"color":"#fff"},
                {"offset":0.25,"color":"#c3c3c3"},{"offset":0.259,"color":"#c3c3c3"},{"offset":0.259,"color":"#fff"},{"offset":0.275,"color":"#fff"},
                {"offset":0.275,"color":"#c3c3c3"},{"offset":0.284,"color":"#c3c3c3"},{"offset":0.284,"color":"#fff"},{"offset":0.3,"color":"#fff"},
                {"offset":0.3,"color":"#c3c3c3"},{"offset":0.309,"color":"#c3c3c3"},{"offset":0.309,"color":"#fff"},{"offset":0.325,"color":"#fff"},
                {"offset":0.325,"color":"#c3c3c3"},{"offset":0.334,"color":"#c3c3c3"},{"offset":0.334,"color":"#fff"},{"offset":0.35,"color":"#fff"},
                {"offset":0.35,"color":"#c3c3c3"},{"offset":0.359,"color":"#c3c3c3"},{"offset":0.359,"color":"#fff"},{"offset":0.375,"color":"#fff"},
                {"offset":0.375,"color":"#c3c3c3"},{"offset":0.384,"color":"#c3c3c3"},{"offset":0.384,"color":"#fff"},{"offset":0.4,"color":"#fff"},
                {"offset":0.4,"color":"#c3c3c3"},{"offset":0.409,"color":"#c3c3c3"},{"offset":0.409,"color":"#fff"},{"offset":0.425,"color":"#fff"},
                {"offset":0.425,"color":"#c3c3c3"},{"offset":0.434,"color":"#c3c3c3"},{"offset":0.434,"color":"#fff"},{"offset":0.45,"color":"#fff"},
                {"offset":0.45,"color":"#c3c3c3"},{"offset":0.459,"color":"#c3c3c3"},{"offset":0.459,"color":"#fff"},{"offset":0.475,"color":"#fff"},
                {"offset":0.475,"color":"#c3c3c3"},{"offset":0.484,"color":"#c3c3c3"},{"offset":0.484,"color":"#fff"},{"offset":0.5,"color":"#fff"},
                {"offset":0.5,"color":"#c3c3c3"},{"offset":0.509,"color":"#c3c3c3"},{"offset":0.509,"color":"#fff"},{"offset":0.525,"color":"#fff"},
                {"offset":0.525,"color":"#c3c3c3"},{"offset":0.534,"color":"#c3c3c3"},{"offset":0.534,"color":"#fff"},{"offset":0.55,"color":"#fff"},
                {"offset":0.55,"color":"#c3c3c3"},{"offset":0.559,"color":"#c3c3c3"},{"offset":0.559,"color":"#fff"},{"offset":0.575,"color":"#fff"},
                {"offset":0.575,"color":"#c3c3c3"},{"offset":0.584,"color":"#c3c3c3"},{"offset":0.584,"color":"#fff"},{"offset":0.6,"color":"#fff"},
                {"offset":0.6,"color":"#c3c3c3"},{"offset":0.609,"color":"#c3c3c3"},{"offset":0.609,"color":"#fff"},{"offset":0.625,"color":"#fff"},
                {"offset":0.625,"color":"#c3c3c3"},{"offset":0.634,"color":"#c3c3c3"},{"offset":0.634,"color":"#fff"},{"offset":0.65,"color":"#fff"},
                {"offset":0.65,"color":"#c3c3c3"},{"offset":0.659,"color":"#c3c3c3"},{"offset":0.659,"color":"#fff"},{"offset":0.675,"color":"#fff"},
                {"offset":0.675,"color":"#c3c3c3"},{"offset":0.684,"color":"#c3c3c3"},{"offset":0.684,"color":"#fff"},{"offset":0.7,"color":"#fff"},
                {"offset":0.7,"color":"#c3c3c3"},{"offset":0.709,"color":"#c3c3c3"},{"offset":0.709,"color":"#fff"},{"offset":0.725,"color":"#fff"},
                {"offset":0.725,"color":"#c3c3c3"},{"offset":0.734,"color":"#c3c3c3"},{"offset":0.734,"color":"#fff"},{"offset":0.75,"color":"#fff"},
                {"offset":0.75,"color":"#c3c3c3"},{"offset":0.759,"color":"#c3c3c3"},{"offset":0.759,"color":"#fff"},{"offset":0.775,"color":"#fff"},
                {"offset":0.775,"color":"#c3c3c3"},{"offset":0.784,"color":"#c3c3c3"},{"offset":0.784,"color":"#fff"},{"offset":0.8,"color":"#fff"},
                {"offset":0.8,"color":"#c3c3c3"},{"offset":0.809,"color":"#c3c3c3"},{"offset":0.809,"color":"#fff"},{"offset":0.825,"color":"#fff"},
                {"offset":0.825,"color":"#c3c3c3"},{"offset":0.834,"color":"#c3c3c3"},{"offset":0.834,"color":"#fff"},{"offset":0.85,"color":"#fff"},
                {"offset":0.85,"color":"#c3c3c3"},{"offset":0.859,"color":"#c3c3c3"},{"offset":0.859,"color":"#fff"},{"offset":0.875,"color":"#fff"},
                {"offset":0.875,"color":"#c3c3c3"},{"offset":0.884,"color":"#c3c3c3"},{"offset":0.884,"color":"#fff"},{"offset":0.9,"color":"#fff"},
                {"offset":0.9,"color":"#c3c3c3"},{"offset":0.909,"color":"#c3c3c3"},{"offset":0.909,"color":"#fff"},{"offset":0.925,"color":"#fff"},
                {"offset":0.925,"color":"#c3c3c3"},{"offset":0.934,"color":"#c3c3c3"},{"offset":0.934,"color":"#fff"},{"offset":0.95,"color":"#fff"},
                {"offset":0.95,"color":"#c3c3c3"},{"offset":0.959,"color":"#c3c3c3"},{"offset":0.959,"color":"#fff"},{"offset":0.975,"color":"#fff"},
                {"offset":0.975,"color":"#c3c3c3"},{"offset":0.984,"color":"#c3c3c3"},{"offset":0.984,"color":"#fff"},{"offset":1,"color":"#fff"}
              ]}
            },
            "encoding": {
              "x": {"field": "start", "type": "temporal", "scale": {"domain": {"expr": "[datetime(2006,6,24,0,0), datetime(2006,6,25,0,0), datetime(2006,6,28,0,0), datetime(2006,6,29,0,0)]"}, "range": [0, 236, 243, 481], "nice": false}},
              "x2": {"field": "end"},
              "y": {"datum": 4.8, "type": "quantitative", "scale": {"domain": [-0.51, 4.5], "nice": false, "zero": false}},
              "y2": {"datum": -0.34}
            }
          },
          {
            "data": {"name": "species"},
            "transform": [{"filter": "datum.species !== 'PAA'"}],
            "mark": {"type": "point", "opacity": 1, "strokeWidth": 1.6},
            "encoding": {
              "x": {"field": "t", "type": "temporal",
                "axis": {"title": null, "orient": "bottom", "domain": false, "tickSize": 6, "labelPadding": 3, "labelFontSize": 18,
                  "values": [{"year":2006,"month":7,"date":24,"hours":0},{"year":2006,"month":7,"date":24,"hours":12},{"year":2006,"month":7,"date":28,"hours":0},{"year":2006,"month":7,"date":28,"hours":12},{"year":2006,"month":7,"date":29,"hours":0}],
                  "labelExpr": "hours(datum.value) === 12 ? '' : timeFormat(datum.value, '%Y-%-m-%d %H:%M')",
                  "tickOpacity": {"condition": {"test": "date(datum.value) === 28 && hours(datum.value) === 0", "value": 0}, "value": 1}}},
              "y": {"field": "value", "type": "quantitative",
                "axis": {"title": "H₂O₂ and MHP (ppbv)", "values": [0,0.5,1,1.5,2,2.5,3,3.5,4], "labelExpr": "datum.value % 1 === 0 ? datum.label : ''",
                  "tickSize": {"condition": {"test": "datum.value % 1 === 0", "value": 6}, "value": 3},
                  "labelPadding": 4, "titleX": -50, "titleY": 100, "titleBaseline": "middle"}},
              "shape": {"field": "species", "type": "nominal", "scale": {"domain": ["H2O2","MHP","PAA"], "range": ["circle","triangle-up","M0,-1L0.225,-0.309L0.951,-0.309L0.363,0.118L0.588,0.809L0,0.382L-0.588,0.809L-0.363,0.118L-0.951,-0.309L-0.225,-0.309Z"]},
                "legend": {"orient": "none", "legendX": 381, "legendY": 10, "title": null, "labelFontSize": 21, "labelOffset": 26, "rowPadding": 10, "symbolStrokeWidth": 1.6,
                  "labelExpr": "datum.label === 'H2O2' ? 'H₂O₂' : datum.label"}},
              "stroke": {"field": "species", "type": "nominal", "scale": {"domain": ["H2O2","MHP","PAA"], "range": ["#ff0000","#0000ff","#000000"]}},
              "fill": {"field": "species", "type": "nominal", "scale": {"domain": ["H2O2","MHP","PAA"], "range": ["transparent","transparent","#000000"]}},
              "size": {"field": "species", "type": "nominal", "scale": {"domain": ["H2O2","MHP","PAA"], "range": [70, 75, 120]}}
            }
          },
          {
            "data": {"name": "segments"},
            "mark": {"type": "rule", "strokeWidth": 1.5, "color": "#000"},
            "encoding": {"x": {"field": "s", "type": "temporal"}, "x2": {"field": "e"}, "y": {"datum": 4.5, "type": "quantitative"}}
          },
          {
            "data": {"name": "segments"},
            "mark": {"type": "rule", "strokeWidth": 1.5, "color": "#000"},
            "encoding": {"x": {"field": "s", "type": "temporal"}, "x2": {"field": "e"}, "y": {"datum": -0.51, "type": "quantitative"}}
          },
          {
            "data": {"name": "breaks"},
            "mark": {"type": "text", "text": "/", "fontSize": 17, "align": "center", "baseline": "middle", "font": "Liberation Sans", "color": "#000"},
            "encoding": {"x": {"field": "t", "type": "temporal"}, "y": {"datum": 4.5, "type": "quantitative"}}
          },
          {
            "data": {"name": "breaks"},
            "mark": {"type": "text", "text": "/", "fontSize": 17, "align": "center", "baseline": "middle", "font": "Liberation Sans", "color": "#000"},
            "encoding": {"x": {"field": "t", "type": "temporal"}, "y": {"datum": -0.51, "type": "quantitative"}}
          }
        ]
      },
      {
        "data": {"name": "species"},
        "transform": [{"filter": "datum.species === 'PAA'"}],
        "mark": {"type": "point", "opacity": 1, "strokeWidth": 1.2},
        "encoding": {
          "x": {"field": "t", "type": "temporal"},
          "y": {"field": "value", "type": "quantitative", "scale": {"domain": [-0.028, 0.2746], "nice": false, "zero": false},
            "axis": {"title": "PAA (ppbv)", "orient": "right", "values": [0,0.025,0.05,0.075,0.1,0.125,0.15,0.175,0.2,0.225,0.25], "format": ".2f",
              "labelExpr": "round(datum.value*1000) % 50 === 0 ? datum.label : ''",
              "tickSize": {"condition": {"test": "round(datum.value*1000) % 50 === 0", "value": 6}, "value": 3},
              "labelPadding": 4, "titleAngle": 270, "titleX": 62, "titleY": 106, "titleBaseline": "middle"}},
          "shape": {"field": "species", "type": "nominal", "scale": {"domain": ["H2O2","MHP","PAA"], "range": ["circle","triangle-up","M0,-1L0.225,-0.309L0.951,-0.309L0.363,0.118L0.588,0.809L0,0.382L-0.588,0.809L-0.363,0.118L-0.951,-0.309L-0.225,-0.309Z"]}},
          "stroke": {"field": "species", "type": "nominal", "scale": {"domain": ["H2O2","MHP","PAA"], "range": ["#ff0000","#0000ff","#000000"]}},
          "fill": {"field": "species", "type": "nominal", "scale": {"domain": ["H2O2","MHP","PAA"], "range": ["transparent","transparent","#000000"]}},
          "size": {"field": "species", "type": "nominal", "scale": {"domain": ["H2O2","MHP","PAA"], "range": [70, 75, 120]}}
        }
      }
    ],
    "resolve": {"scale": {"y": "independent"}}
  }
]
}
